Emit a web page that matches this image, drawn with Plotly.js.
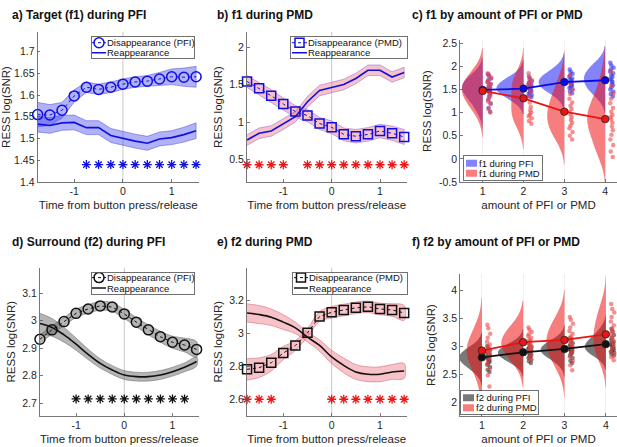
<!DOCTYPE html>
<html><head><meta charset="utf-8">
<script src="https://cdn.plot.ly/plotly-3.0.1.min.js"></script>
<style>html,body{margin:0;padding:0;background:#fff}#chart{width:617px;height:447px}</style>
</head><body><div id="chart"></div>
<script>
// ---------- data ----------
const time = [-1.75,-1.5,-1.25,-1,-0.75,-0.5,-0.25,0,0.25,0.5,0.75,1,1.25,1.5];

// a) Target (f1) during PFI
const aDisMean = [1.555,1.554,1.565,1.598,1.618,1.613,1.618,1.625,1.630,1.632,1.637,1.642,1.641,1.642];
const aDisSE   = [0.028,0.024,0.018,0.014,0.012,0.012,0.012,0.012,0.012,0.013,0.015,0.018,0.021,0.024];
const aReMean  = [1.533,1.530,1.536,1.537,1.525,1.525,1.507,1.500,1.494,1.489,1.499,1.502,1.509,1.518];
const aReSE    = [0.018,0.018,0.017,0.017,0.016,0.016,0.016,0.016,0.016,0.016,0.016,0.016,0.017,0.018];
const aStarT   = [-0.75,-0.5,-0.25,0,0.25,0.5,0.75,1,1.25,1.5];
const aStarY   = 1.44;

// b) f1 during PMD
const bDisMean = [1.54,1.45,1.35,1.24,1.14,1.085,0.98,0.93,0.835,0.81,0.835,0.88,0.85,0.80];
const bDisSE   = [0.08,0.08,0.08,0.08,0.08,0.08,0.08,0.085,0.085,0.09,0.09,0.09,0.095,0.1];
const bReMean  = [0.76,0.85,0.88,0.97,1.07,1.27,1.42,1.46,1.50,1.58,1.69,1.69,1.60,1.66];
const bReSE    = [0.07,0.07,0.07,0.07,0.07,0.07,0.07,0.07,0.07,0.07,0.07,0.07,0.07,0.07];
const bStarT   = [-1.75,-1.5,-1.25,-1,-0.5,-0.25,0,0.25,0.5,0.75,1,1.25,1.5];
const bStarY   = 0.43;

// d) Surround (f2) during PFI
const dDisMean = [2.933,2.967,2.997,3.027,3.043,3.054,3.050,3.025,2.995,2.967,2.942,2.922,2.912,2.896];
const dDisSE   = [0.015,0.015,0.015,0.015,0.015,0.016,0.016,0.016,0.017,0.018,0.020,0.022,0.025,0.028];
const dReMean  = [2.990,2.976,2.949,2.915,2.878,2.845,2.821,2.803,2.797,2.797,2.803,2.815,2.831,2.852];
const dReSE    = [0.037,0.032,0.027,0.022,0.019,0.017,0.016,0.016,0.016,0.016,0.016,0.016,0.016,0.016];
const dStarT   = [-1,-0.75,-0.5,-0.25,0,0.25,0.5,0.75,1,1.25];
const dStarY   = 2.716;

// e) f2 during PMD
const eDisMean = [2.782,2.792,2.822,2.881,2.927,3.004,3.103,3.129,3.143,3.156,3.162,3.149,3.143,3.125];
const eDisSE   = [0.065,0.060,0.050,0.040,0.030,0.025,0.030,0.035,0.035,0.035,0.035,0.035,0.038,0.045];
const eReMean  = [3.125,3.115,3.099,3.069,3.034,2.978,2.927,2.857,2.806,2.766,2.752,2.752,2.766,2.772];
const eReSE    = [0.055,0.055,0.050,0.045,0.035,0.030,0.035,0.040,0.045,0.045,0.045,0.045,0.045,0.045];
const eStarT   = [-1.75,-1.5,-1.25,0,0.25,0.5,0.75,1,1.25,1.5];
const eStarY   = 2.6;

// c) f1 by amount of PFI or PMD (per-participant values)
const amount = [1,2,3,4];
const cPFI1 = [1.83,1.79,1.74,1.70,1.66,1.62,1.58,1.55,1.52,1.50,1.47,1.44,1.40,1.35,1.28,1.20,1.10,1.02];
const cPFI2 = [1.78,1.72,1.68,1.65,1.62,1.60,1.58,1.56,1.54,1.52,1.50,1.48,1.46,1.44,1.41,1.38,1.36,1.33];
const cPFI3 = [1.93,1.88,1.84,1.80,1.77,1.74,1.71,1.69,1.67,1.65,1.63,1.61,1.58,1.56,1.53,1.50,1.46,1.42];
const cPFI4 = [2.08,2.02,1.97,1.93,1.89,1.85,1.81,1.77,1.73,1.70,1.67,1.63,1.59,1.55,1.50,1.45,1.40,1.35];
const cPMD1 = [1.85,1.82,1.76,1.70,1.66,1.62,1.58,1.54,1.50,1.47,1.44,1.40,1.36,1.30,1.24,1.18,1.08,1.00];
const cPMD2 = [1.85,1.75,1.70,1.66,1.62,1.58,1.52,1.45,1.35,1.22,1.12,1.05,1.00,0.96,0.92,0.88,0.82,0.76];
const cPMD3 = [1.80,1.62,1.50,1.40,1.30,1.22,1.15,1.08,1.02,0.96,0.90,0.84,0.78,0.72,0.66,0.58,0.50,0.42];
const cPMD4 = [1.90,1.58,1.42,1.30,1.20,1.10,1.02,0.95,0.90,0.85,0.78,0.70,0.62,0.52,0.42,0.30,0.16,0.04];
const cMeanPFI = [1.49,1.52,1.66,1.70];
const cMeanPMD = [1.47,1.31,1.02,0.86];

// f) f2 by amount of PFI or PMD
const fPFI1 = [3.00,2.96,2.93,2.90,2.88,2.86,2.84,2.82,2.80,2.78,2.76,2.74,2.72,2.70,2.67,2.63,2.58,2.54];
const fPFI2 = [3.06,3.02,2.99,2.97,2.95,2.93,2.91,2.90,2.89,2.88,2.87,2.85,2.83,2.81,2.79,2.76,2.73,2.70];
const fPFI3 = [3.14,3.09,3.05,3.02,3.00,2.98,2.96,2.95,2.94,2.93,2.92,2.90,2.88,2.86,2.83,2.79,2.74,2.70];
const fPFI4 = [3.31,3.26,3.20,3.15,3.11,3.08,3.06,3.04,3.02,3.00,2.98,2.96,2.94,2.92,2.90,2.88,2.86,2.83];
const fPMD1 = [3.38,3.32,3.22,3.15,3.08,3.03,2.99,2.95,2.92,2.89,2.86,2.83,2.79,2.74,2.68,2.60,2.48,2.28];
const fPMD2 = [3.33,3.29,3.25,3.21,3.18,3.15,3.12,3.09,3.07,3.05,3.02,2.99,2.96,2.93,2.89,2.85,2.80,2.75];
const fPMD3 = [3.52,3.47,3.40,3.33,3.27,3.22,3.17,3.13,3.09,3.05,3.01,2.97,2.92,2.87,2.81,2.74,2.66,2.57];
const fPMD4 = [3.75,3.66,3.60,3.52,3.44,3.37,3.31,3.26,3.21,3.16,3.11,3.06,3.01,2.96,2.90,2.85,2.80,2.75];
const fMeanPFI = [2.80,2.89,2.95,3.035];
const fMeanPMD = [2.92,3.07,3.11,3.21];

// ---------- styling / geometry ----------
const F = 'Liberation Sans, Arial, Helvetica, sans-serif';
const W = 617, H = 447;
const px = v => v / W, py = v => 1 - v / H;
// half-widths of the half-violins (x units)
const cHalfPFI = [0.51,0.66,0.63,0.52], cHalfPMD = [0.51,0.30,0.42,0.44];
const fHalfPFI = [0.55,0.61,0.58,0.51], fHalfPMD = [0.37,0.53,0.44,0.30];

function band(m, se, xa, ya, fill, edge, shape) {
  const up = m.map((v, i) => v + se[i]);
  const lo = m.map((v, i) => v - se[i]);
  return {x: time.concat(time.slice().reverse()), y: up.concat(lo.slice().reverse()),
    type:'scatter', mode:'lines', fill:'toself', fillcolor: fill,
    line:{color: edge, width:0.7, shape: shape || 'linear'},
    xaxis: xa, yaxis: ya, showlegend:false, hoverinfo:'skip'};
}
function disLine(m, xa, ya, col, sym, size, name, leg) {
  return {x: time, y: m, type:'scatter', mode:'lines+markers', name: name,
    line:{color: col, width:1, dash:'dot'},
    marker:{symbol: sym, size: size, color: col, line:{color: col, width:1.5}},
    xaxis: xa, yaxis: ya, legend: leg, cliponaxis:false};
}
function reLine(m, xa, ya, col, name, leg, shape) {
  return {x: time, y: m, type:'scatter', mode:'lines', name: name,
    line:{color: col, width:1.6, shape: shape || 'linear'},
    xaxis: xa, yaxis: ya, legend: leg};
}
function stars(ts, lvl, xa, ya, col) {
  return {x: ts, y: ts.map(() => lvl), type:'scatter', mode:'markers',
    marker:{symbol:'asterisk-open', size:7.5, color: col, line:{color: col, width:1.3}},
    xaxis: xa, yaxis: ya, showlegend:false, hoverinfo:'skip', cliponaxis:false};
}
function violins(groups, half, fill, ptcol, name, xa, ya, leg, bw) {
  return groups.map((g, i) => ({type:'violin', x: g.map(() => amount[i]), y: g, name: name,
    showlegend: i === 0, side:'negative', width: 2 * half[i],
    scalemode:'width', bandwidth: bw, spanmode:'soft',
    points:'all', pointpos: 0.165 / half[i], jitter: 0.05 / half[i],
    marker:{color: ptcol, size:4.5, line:{width:0}},
    fillcolor: fill, line:{width:0, color: fill},
    xaxis: xa, yaxis: ya, legend: leg, hoveron:'violins'}));
}
function meanLine(m, col, xa, ya) {
  return {x: amount, y: m, type:'scatter', mode:'lines+markers',
    line:{color: col, width:1.8}, marker:{size:7.5, color: col, line:{color:'#222', width:0.8}},
    xaxis: xa, yaxis: ya, showlegend:false, hoverinfo:'skip', cliponaxis:false};
}

const BLUE = 'rgb(15,15,225)', RED = 'rgb(240,20,20)';
const traces = [].concat(
  // a
  band(aDisMean, aDisSE, 'x', 'y', 'rgba(60,60,235,0.40)', 'rgba(70,70,220,0.7)'),
  band(aReMean, aReSE, 'x', 'y', 'rgba(60,60,235,0.40)', 'rgba(70,70,220,0.7)'),
  disLine(aDisMean, 'x', 'y', BLUE, 'circle-open', 10, 'Disappearance (PFI)', 'legend'),
  reLine(aReMean, 'x', 'y', BLUE, 'Reappearance', 'legend'),
  stars(aStarT, aStarY, 'x', 'y', BLUE),
  // b
  band(bDisMean, bDisSE, 'x2', 'y2', 'rgba(240,120,135,0.45)', 'rgba(150,110,210,0.8)'),
  band(bReMean, bReSE, 'x2', 'y2', 'rgba(240,120,135,0.45)', 'rgba(150,110,210,0.8)'),
  disLine(bDisMean, 'x2', 'y2', BLUE, 'square-open', 9, 'Disappearance (PMD)', 'legend2'),
  reLine(bReMean, 'x2', 'y2', BLUE, 'Reappearance', 'legend2'),
  stars(bStarT, bStarY, 'x2', 'y2', RED),
  // c
  violins([cPFI1,cPFI2,cPFI3,cPFI4], cHalfPFI, 'rgba(30,30,245,0.55)', 'rgba(60,60,240,0.65)', 'f1 during PFI', 'x3', 'y3', 'legend3', 0.18),
  violins([cPMD1,cPMD2,cPMD3,cPMD4], cHalfPMD, 'rgba(240,20,20,0.55)', 'rgba(240,70,70,0.6)', 'f1 during PMD', 'x3', 'y3', 'legend3', 0.27),
  meanLine(cMeanPFI, 'rgb(10,10,230)', 'x3', 'y3'),
  meanLine(cMeanPMD, 'rgb(235,20,20)', 'x3', 'y3'),
  // d
  band(dDisMean, dDisSE, 'x4', 'y4', 'rgba(90,90,90,0.45)', 'rgba(110,110,110,0.8)', 'spline'),
  band(dReMean, dReSE, 'x4', 'y4', 'rgba(90,90,90,0.45)', 'rgba(110,110,110,0.8)', 'spline'),
  disLine(dDisMean, 'x4', 'y4', '#111', 'circle-open', 10, 'Disappearance (PFI)', 'legend4'),
  reLine(dReMean, 'x4', 'y4', '#111', 'Reappearance', 'legend4', 'spline'),
  stars(dStarT, dStarY, 'x4', 'y4', '#111'),
  // e
  band(eDisMean, eDisSE, 'x5', 'y5', 'rgba(240,120,135,0.45)', 'rgba(200,110,120,0.8)', 'spline'),
  band(eReMean, eReSE, 'x5', 'y5', 'rgba(240,120,135,0.45)', 'rgba(200,110,120,0.8)', 'spline'),
  disLine(eDisMean, 'x5', 'y5', '#111', 'square-open', 9, 'Disappearance (PMD)', 'legend5'),
  reLine(eReMean, 'x5', 'y5', '#111', 'Reappearance', 'legend5', 'spline'),
  stars(eStarT, eStarY, 'x5', 'y5', RED),
  // f
  violins([fPFI1,fPFI2,fPFI3,fPFI4], fHalfPFI, 'rgba(20,20,20,0.57)', 'rgba(50,50,50,0.6)', 'f2 during PFI', 'x6', 'y6', 'legend6', 0.12),
  violins([fPMD1,fPMD2,fPMD3,fPMD4], fHalfPMD, 'rgba(240,20,20,0.55)', 'rgba(240,70,70,0.6)', 'f2 during PMD', 'x6', 'y6', 'legend6', 0.24),
  meanLine(fMeanPFI, '#111', 'x6', 'y6'),
  meanLine(fMeanPMD, 'rgb(235,20,20)', 'x6', 'y6')
);

function ax(dom, range, extra) {
  return Object.assign({domain: dom, range: range, showline:true, linecolor:'#555', linewidth:0.8,
    ticks:'inside', ticklen:3, tickcolor:'#555', tickwidth:0.8, showgrid:false, zeroline:false,
    tickfont:{family:F, size:10.5, color:'#262626'}, fixedrange:true}, extra || {});
}
const tTicks = {tickmode:'array', tickvals:[-1,0,1], ticktext:['-1','0','1'],
  title:{text:'Time from button press/release', font:{family:F, size:11.5, color:'#262626'}, standoff:4}};
const aTicks = {tickmode:'array', tickvals:amount, ticktext:['1','2','3','4'], showgrid:true, gridcolor:'#ececec', gridwidth:0.8,
  title:{text:'amount of PFI or PMD', font:{family:F, size:11.5, color:'#262626'}, standoff:4}};
const yT = {title:{text:'RESS log(SNR)', font:{family:F, size:11.5, color:'#262626'}, standoff:4}};

function legend(x, y) {
  return {x: x, y: y, xanchor:'left', yanchor:'top', bgcolor:'#fff', bordercolor:'#333', borderwidth:0.7,
    font:{family:F, size:9.5, color:'#111'}, tracegroupgap:0, itemwidth:30};
}
// legend boxes (pixel geometry of the reference legends)
const LEG = {
  legend:  {L:91,  T:36,  W:103, H:22,   rows:[6.7,16.7],  textX:16, line:[1,15], sym:8},
  legend2: {L:290, T:36,  W:117, H:22,   rows:[6.7,16.7],  textX:18, line:[2,17], sym:9.5},
  legend3: {L:463, T:155, W:79,  H:25,   rows:[8.3,18.3],  textX:16, line:[1,15], sym:8.5},
  legend4: {L:91,  T:272, W:103, H:21.5, rows:[5.6,16],    textX:16, line:[1,15], sym:8},
  legend5: {L:292, T:272, W:115, H:21.5, rows:[5.6,16],    textX:17, line:[2,16], sym:9},
  legend6: {L:460, T:390, W:78,  H:24,   rows:[7.7,17.7],  textX:16, line:[1,15], sym:8.5}
};

const layout = {
  width: W, height: H, margin:{l:0, r:0, t:0, b:0}, paper_bgcolor:'#fff', plot_bgcolor:'rgba(0,0,0,0)',
  font:{family:F}, violinmode:'overlay', showlegend:true,
  xaxis:  ax([px(37.4), px(199)], [-1.755, 1.56], Object.assign({anchor:'y'}, tTicks)),
  yaxis:  ax([py(182), py(32)], [1.4, 1.745], Object.assign({anchor:'x', tickvals:[1.4,1.45,1.5,1.55,1.6,1.65,1.7], tickmode:'array'}, yT)),
  xaxis2: ax([px(246.8), px(406.6)], [-1.755, 1.55], Object.assign({anchor:'y2'}, tTicks)),
  yaxis2: ax([py(182), py(32)], [0.2, 2.2], Object.assign({anchor:'x2', tickvals:[0.5,1,1.5,2], tickmode:'array'}, yT)),
  xaxis3: ax([px(460), px(617)], [0.443, 4.29], Object.assign({anchor:'y3'}, aTicks)),
  yaxis3: ax([py(182), py(40)], [-0.5, 2.57], Object.assign({anchor:'x3', tickmode:'array', tickvals:[-0.5,0,0.5,1,1.5,2,2.5], ticktext:['-0.5','0','0.5','1','1.5','2','2.5']}, yT)),
  xaxis4: ax([px(39.7), px(199)], [-1.755, 1.55], Object.assign({anchor:'y4'}, tTicks)),
  yaxis4: ax([py(415.7), py(267.7)], [2.655, 3.193], Object.assign({anchor:'x4', tickvals:[2.7,2.8,2.9,3,3.1], tickmode:'array'}, yT)),
  xaxis5: ax([px(246.8), px(406.6)], [-1.755, 1.55], Object.assign({anchor:'y5'}, tTicks)),
  yaxis5: ax([py(415.7), py(267.7)], [2.5, 3.4], Object.assign({anchor:'x5', tickvals:[2.6,2.8,3,3.2], tickmode:'array'}, yT)),
  xaxis6: ax([px(460), px(617)], [0.47, 4.27], Object.assign({anchor:'y6'}, aTicks)),
  yaxis6: ax([py(415.7), py(274.3)], [1.76, 4.28], Object.assign({anchor:'x6', tickvals:[2,2.5,3,3.5,4], tickmode:'array'}, yT)),
  shapes: ['x','x2','x4','x5'].map((xa, i) => ({type:'line', xref: xa, yref: ['y','y2','y4','y5'][i] + ' domain',
    x0:0, x1:0, y0:0, y1:1, line:{color:'#c8c8c8', width:1}, layer:'below'})),
  annotations: [
    ['a) Target (f1) during PFI', 10, 15], ['b) f1 during PMD', 215, 15], ['c) f1 by amount of PFI or PMD', 410, 15],
    ['d) Surround (f2) during PFI', 10, 242], ['e) f2 during PMD', 215, 242], ['f) f2 by amount of PFI or PMD', 410, 242]
  ].map(t => ({text: t[0], x: px(t[1]), y: py(t[2]), xref:'paper', yref:'paper', xanchor:'left', yanchor:'middle',
    showarrow:false, font:{family:F, size:12, color:'#111', weight:'bold'}}))
};
Object.keys(LEG).forEach(k => { layout[k] = legend(px(LEG[k].L), py(LEG[k].T)); });

// compact the legends to the reference's tight MATLAB-style layout.
// The legend text is left where Plotly put it; the box, samples and rows are arranged around it.
function compactLegends(gd) {
  Object.keys(LEG).forEach(k => {
    const g = gd.querySelector('g.' + k);
    if (!g) return;
    const s = LEG[k];
    const tx0 = g.querySelector('text.legendtext');
    let tX = tx0 ? parseFloat(tx0.getAttribute('x')) : NaN;
    if (!isFinite(tX)) tX = 40;
    const off = tX - s.textX;            // legend-local x of the box's left edge
    g.setAttribute('transform', 'translate(' + (s.L - off) + ',' + s.T + ')');
    const bg = g.querySelector('rect.bg');
    if (bg) { bg.setAttribute('x', off + 0.5); bg.setAttribute('y', 0.5); bg.setAttribute('width', s.W); bg.setAttribute('height', s.H); }
    g.querySelectorAll('g.groups').forEach(gr => gr.removeAttribute('transform'));
    g.querySelectorAll('g.traces').forEach((it, i) => {
      it.setAttribute('transform', 'translate(0,' + s.rows[i] + ')');
      it.querySelectorAll('.legendlines path').forEach(p => p.setAttribute('d', 'M' + (off + s.line[0]) + ',0h' + (s.line[1] - s.line[0])));
      it.querySelectorAll('.legendpoints path').forEach(p => {
        p.setAttribute('transform', 'translate(' + (off + s.sym) + ',0)');
        if (p.classList.contains('legendbox')) p.setAttribute('d', 'M5.5,3.5H-5.5V-3.5H5.5Z');
      });
    });
  });
}

Plotly.newPlot('chart', traces, layout, {staticPlot:true, displayModeBar:false}).then(compactLegends);
</script></body></html>
